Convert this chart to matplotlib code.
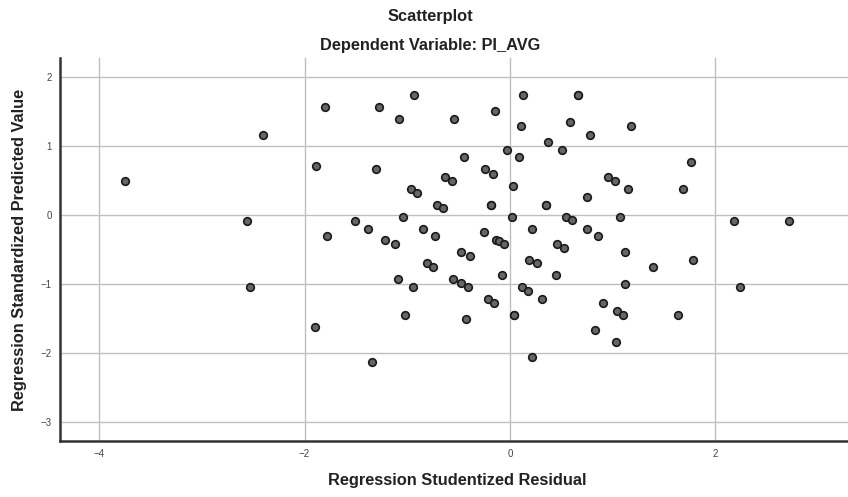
import matplotlib
matplotlib.use("Agg")
import matplotlib.pyplot as plt

# Regression Studentized Residual (x) and Regression Standardized Predicted Value (y)
resid = [-3.745, -2.406, -2.561, -1.887, -2.529, -1.897, -1.803, -1.271, -0.934, -1.077,
         -0.545, -0.143, 0.110, -0.026, 0.090, -1.303, -0.444, -0.240, -0.162, -0.632,
         -0.567, -0.963, -0.902, 0.032, -0.707, -0.649, -0.182, -0.182, -1.508, -1.041,
         0.016, -1.783, -1.378, -1.213, -1.116, -0.850, -0.726, -0.256, -0.139, -0.110,
         -0.061, -0.477, -0.392, -0.810, -0.752, -0.081, -1.089, -0.941, -0.551, -0.477,
         -0.409, -0.217, -0.156, 0.040, 0.040, 0.113, -1.025, -0.431, -1.339, 0.130,
         0.665, 0.665, 0.584, 1.177, 0.778, 0.373, 0.502, 1.757, 0.950, 1.021,
         1.151, 1.680, 0.746, 0.350, 0.350, 0.545, 0.600, 1.073, 0.211, 0.746,
         0.859, 0.460, 0.528, 1.122, 0.188, 0.260, 1.777, 1.394, 0.450, 1.122,
         0.178, 0.315, 0.905, 1.044, 1.102, 1.631, 0.830, 1.028, 0.217, 2.185,
         2.711, 2.234]
pred = [0.498, 1.170, -0.078, 0.716, -1.045, -1.617, 1.567, 1.567, 1.742, 1.393,
        1.393, 1.514, 1.290, 0.948, 0.842, 0.667, 0.842, 0.667, 0.600, 0.551,
        0.498, 0.377, 0.319, 0.430, 0.149, 0.101, 0.149, 0.149, -0.078, -0.020,
        -0.020, -0.300, -0.194, -0.358, -0.421, -0.194, -0.300, -0.247, -0.354, -0.368,
        -0.417, -0.528, -0.591, -0.688, -0.755, -0.871, -0.925, -1.045, -0.925, -0.987,
        -1.045, -1.215, -1.268, -1.440, -1.440, -1.045, -1.443, -1.505, -2.134, 1.742,
        1.742, 1.742, 1.345, 1.292, 1.170, 1.068, 0.948, 0.774, 0.551, 0.498,
        0.377, 0.377, 0.270, 0.149, 0.149, -0.020, -0.068, -0.020, -0.194, -0.194,
        -0.300, -0.417, -0.470, -0.528, -0.649, -0.697, -0.649, -0.755, -0.871, -0.993,
        -1.094, -1.215, -1.268, -1.384, -1.447, -1.443, -1.665, -1.843, -2.061, -0.083,
        -0.083, -1.045]

x_ticks = [-4, -2, 0, 2]
y_ticks = [-3, -2, -1, 0, 1, 2]

FONT = ['Liberation Sans', 'DejaVu Sans']
plt.rcParams['font.family'] = FONT

fig = plt.figure(figsize=(8.48, 4.97), dpi=100)
ax = fig.add_axes([60/848, 1 - 440.7/497, 1 - 60/848, (440.7 - 58)/497])

ax.set_xlim(-4.38, 3.29)
ax.set_ylim(-3.27, 2.28)
ax.set_xticks(x_ticks)
ax.set_yticks(y_ticks)
ax.grid(True, color='#bfbfbf', linewidth=1.0)
ax.set_axisbelow(True)

ax.scatter(resid, pred, s=30, facecolor='#666666', edgecolor='#1a1a1a',
           linewidths=1.2, zorder=3)

for s in ['top', 'right']:
    ax.spines[s].set_visible(False)
for s in ['left', 'bottom']:
    ax.spines[s].set_linewidth(1.8)
    ax.spines[s].set_color('#333333')

ax.tick_params(length=0, labelsize=7, labelcolor='#444444', pad=6)

TS = 11.8
fig.text(430/848, 1 - 17/497, 'Scatterplot', ha='center', va='center',
         fontsize=TS, fontweight='bold', color='#222222')
fig.text(430/848, 1 - 46/497, 'Dependent Variable: PI_AVG', ha='center', va='center',
         fontsize=TS, fontweight='bold', color='#222222')
fig.text(457/848, 1 - 481/497, 'Regression Studentized Residual', ha='center', va='center',
         fontsize=TS, fontweight='bold', color='#222222')
fig.text(20/848, 1 - 250/497, 'Regression Standardized Predicted Value', ha='center',
         va='center', rotation=90, fontsize=TS, fontweight='bold', color='#222222')

fig.savefig('out.png', dpi=100)
